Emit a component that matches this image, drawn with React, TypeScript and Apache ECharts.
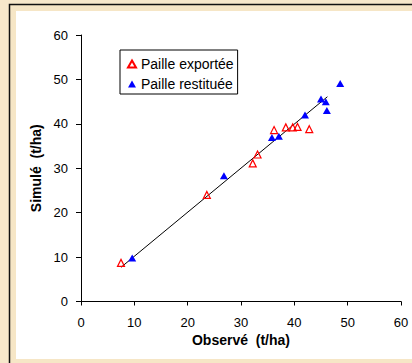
import React, { useEffect, useRef } from "react";
import * as echarts from "echarts";

const exporteeObs = [7.5, 23.6, 32.2, 33.1, 36.2, 38.4, 39.7, 40.6, 42.8];
const exporteeSim = [8.7, 24.0, 31.1, 33.1, 38.6, 39.2, 39.2, 39.3, 38.8];
const restitueeObs = [9.6, 26.8, 35.8, 37.1, 42.0, 45.0, 45.9, 46.1, 48.6];
const restitueeSim = [9.8, 28.3, 36.9, 37.2, 42.0, 45.6, 45.0, 43.0, 49.1];
const lineObs = [7.5, 46.2];
const lineSim = [7.7, 46.1];
const seriesNames = ["Paille exportée", "Paille restituée"];
const xTitle = "Observé  (t/ha)";
const yTitle = "Simulé  (t/ha)";

const FONT = 'Arial, "Liberation Sans", sans-serif';

export default function App() {
  const ref = useRef<HTMLDivElement>(null);
  useEffect(() => {
    if (!ref.current) return;
    const chart = echarts.init(ref.current, null, { renderer: "svg" });
    const zip = (a: number[], b: number[]) => a.map((v, i) => [v, b[i]]);
    chart.setOption({
      animation: false,
      backgroundColor: "#f7e8cb",
      textStyle: { fontFamily: FONT },
      graphic: {
        elements: [
          {
            type: "rect",
            z: -10,
            shape: { x: 9.5, y: 4.5, width: 600, height: 600 },
            style: { fill: "#f6e6c6", stroke: "#111", lineWidth: 1.5 },
          },
          {
            type: "rect",
            z: -9,
            shape: { x: 16, y: 11, width: 600, height: 348 },
            style: { fill: "#ffffff" },
          },
        ],
      },
      grid: { left: 81, right: 11, top: 35, bottom: 61.5, containLabel: false },
      legend: {
        orient: "vertical",
        left: 120,
        top: 50,
        padding: [7, 4, 3, 7],
        itemWidth: 8,
        itemHeight: 7,
        itemGap: 6,
        itemTextGap: 5,
        borderColor: "#000",
        borderWidth: 1,
        backgroundColor: "#fff",
        data: seriesNames,
        textStyle: { fontSize: 14, color: "#000", fontFamily: FONT },
      },
      xAxis: {
        type: "value",
        min: 0,
        max: 60,
        interval: 10,
        name: xTitle,
        nameLocation: "middle",
        nameGap: 29,
        nameTextStyle: { fontSize: 14, fontWeight: "bold", color: "#000", fontFamily: FONT },
        axisLine: { show: true, onZero: false, lineStyle: { color: "#000", width: 1 } },
        axisTick: { show: true, length: 4, lineStyle: { color: "#000" } },
        axisLabel: { fontSize: 13, color: "#000", margin: 14, fontFamily: FONT },
        splitLine: { show: false },
      },
      yAxis: {
        type: "value",
        min: 0,
        max: 60,
        interval: 10,
        name: yTitle,
        nameLocation: "middle",
        nameGap: 37,
        nameTextStyle: { fontSize: 14, fontWeight: "bold", color: "#000", fontFamily: FONT },
        axisLine: { show: true, onZero: false, lineStyle: { color: "#000", width: 1 } },
        axisTick: { show: true, length: 5, lineStyle: { color: "#000" } },
        axisLabel: { fontSize: 13, color: "#000", margin: 13, fontFamily: FONT },
        splitLine: { show: false },
      },
      series: [
        {
          type: "line",
          data: zip(lineObs, lineSim),
          symbol: "none",
          lineStyle: { color: "#000", width: 1 },
          z: 2,
          silent: true,
        },
        {
          name: seriesNames[0],
          type: "scatter",
          symbol: "triangle",
          symbolSize: [7, 7],
          data: zip(exporteeObs, exporteeSim),
          itemStyle: { color: "rgba(255,255,255,0)", borderColor: "#ff0000", borderWidth: 1.2, opacity: 1 },
          z: 3,
        },
        {
          name: seriesNames[1],
          type: "scatter",
          symbol: "triangle",
          symbolSize: [8, 7],
          data: zip(restitueeObs, restitueeSim),
          itemStyle: { color: "#0000ff", opacity: 1 },
          z: 4,
        },
      ],
    });
    return () => chart.dispose();
  }, []);
  return (
    <div
      ref={ref}
      style={{ position: "absolute", left: 0, top: 0, width: 412, height: 363 }}
    />
  );
}
